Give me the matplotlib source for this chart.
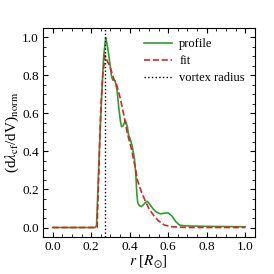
import numpy as np
import matplotlib
matplotlib.use("Agg")
import matplotlib.pyplot as plt
from matplotlib.ticker import MultipleLocator

plt.rcParams['font.family'] = ['Liberation Serif', 'DejaVu Serif']
plt.rcParams['mathtext.fontset'] = 'stix'

# Profil (grün)
r_profile = [0.0, 0.22, 0.228, 0.235, 0.245, 0.255, 0.265, 0.276, 0.285, 0.294,
             0.305, 0.312, 0.318, 0.325, 0.335, 0.344, 0.352, 0.358, 0.366, 0.378,
             0.388, 0.395, 0.405, 0.415, 0.425, 0.432, 0.437, 0.442, 0.45, 0.46,
             0.47, 0.48, 0.49, 0.50, 0.52, 0.54, 0.56, 0.58, 0.60, 0.62,
             0.64, 0.66, 0.70, 0.80, 0.90, 1.0]
v_profile = [0.0, 0.0, 0.01, 0.2, 0.47, 0.7, 0.9, 1.0, 0.95, 0.89,
             0.80, 0.775, 0.78, 0.77, 0.72, 0.625, 0.56, 0.53, 0.535, 0.563,
             0.53, 0.484, 0.46, 0.42, 0.36, 0.28, 0.18, 0.13, 0.115, 0.11,
             0.118, 0.13, 0.138, 0.128, 0.10, 0.08, 0.072, 0.075, 0.077, 0.06,
             0.03, 0.012, 0.008, 0.006, 0.005, 0.004]

# Fit (rot)
r_fit = [0.0, 0.22, 0.231, 0.245, 0.25, 0.26, 0.272, 0.28, 0.30, 0.318,
         0.33, 0.352, 0.37, 0.387, 0.41, 0.43, 0.44, 0.46, 0.48, 0.50,
         0.525, 0.55, 0.58, 0.62, 0.70, 1.0]
v_fit = [0.0, 0.0, 0.0, 0.47, 0.62, 0.80, 0.905, 0.885, 0.84, 0.78,
         0.76, 0.677, 0.59, 0.5, 0.41, 0.31, 0.25, 0.19, 0.142, 0.10,
         0.063, 0.035, 0.013, 0.004, 0.0, 0.0]

vortex_radius = 0.27

fig = plt.figure(figsize=(2.74, 2.74), dpi=100)
ax = fig.add_axes([0.157, 0.135, 0.773, 0.763])

ax.plot(r_profile, v_profile, color="#2ca02c", lw=1.2, label="profile")
ax.plot(r_fit, v_fit, color="#d62728", lw=1.2, ls="--", label="fit")
ax.axvline(vortex_radius, color="k", lw=1.0, ls=":", label="vortex radius")

ax.set_xlim(-0.05, 1.05)
ax.set_ylim(-0.05, 1.05)
ax.xaxis.set_major_locator(MultipleLocator(0.2))
ax.yaxis.set_major_locator(MultipleLocator(0.2))
ax.xaxis.set_minor_locator(MultipleLocator(0.05))
ax.yaxis.set_minor_locator(MultipleLocator(0.05))
ax.tick_params(which="both", direction="in", top=True, right=True, labelsize=9.5)
ax.tick_params(which="major", length=3.5, pad=3)
ax.tick_params(which="minor", length=2)

ax.set_xlabel(r"$r$ [$R_{\odot}$]", fontsize=11, labelpad=0)
ax.set_ylabel(r"(d$\lambda_{\rm cf}$/dV)$_{\rm norm}$", fontsize=11, labelpad=1)

ax.legend(loc="upper right", frameon=False, fontsize=9, handlelength=2.2,
          borderaxespad=0.4, labelspacing=0.4, handletextpad=0.6)

fig.savefig("out.png", dpi=100)
